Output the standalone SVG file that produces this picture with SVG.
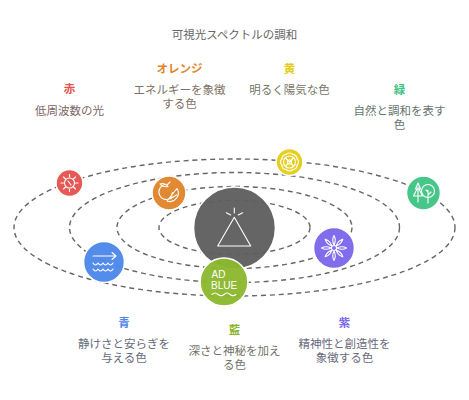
<svg xmlns="http://www.w3.org/2000/svg" width="469" height="400" viewBox="0 0 469 400">
<style>
text{font-family:"Liberation Sans","Noto Sans CJK JP",sans-serif;text-anchor:middle}
.t{font-size:11.5px;fill:#666}
.h{font-size:11.5px;font-weight:700}
.d{font-size:11.5px}
.o{fill:none;stroke:#666;stroke-width:1.4;stroke-dasharray:5 3.8}
.c{stroke:#fff;stroke-width:1.6;fill-opacity:.96}
.i{fill:none;stroke:#fff;stroke-width:1.1;stroke-linecap:round;stroke-linejoin:round}
</style>
<defs>
<path id="petal" d="M0 -3Q2.500 -8 0 -12.500Q-2.500 -8 0 -3Z"/>
<path id="scallop" d="M-3.300 -7.500Q0 -10.500 3.300 -7.500"/>
</defs>
<rect width="469" height="400" fill="#fff"/>
<g id="connectors">
<ellipse class="o" cx="234.500" cy="227.500" rx="220.500" ry="68.500"/>
<ellipse class="o" cx="234.500" cy="227.500" rx="165" ry="55"/>
<ellipse class="o" cx="234.500" cy="227.500" rx="117.500" ry="41"/>
<ellipse class="o" cx="234.500" cy="227.500" rx="75.500" ry="27"/>
</g>
<text class="t" x="234.500" y="39">可視光スペクトルの調和</text>
<g id="center"><circle class="c" cx="234.500" cy="228" r="41" fill="#5f5f5f"/>
<path class="i" d="M234.300 217.300L250.700 246H217.700ZM234.300 213V208M230.700 215L226.300 212.700M238.300 215L242.700 212.700"/></g>
<g id="node-red"><circle class="c" cx="69.500" cy="183" r="13.500" fill="#e5534f"/>
<circle class="i" cx="69.500" cy="183" r="5"/><path class="i" d="M69.500 174.500V177M69.500 189V191.500M61 183H63.500M75.500 183H78M63.500 177L65.500 179M73.500 187L75.500 189M63.500 189L65.500 187M73.500 179L75.500 177M68 181L71 185"/></g>
<g id="node-orange"><circle class="c" cx="169" cy="193" r="17" fill="#e0852b"/>
<path class="i" d="M166 184.500A7.500 7.500 0 1 0 172 197M160 184C163 183 166 184 168 186.500C165 187 162 186.500 160 184ZM167 185L170 182"/><path class="i" d="M177 188.500A8.500 8.500 0 0 1 167 201ZM172.500 192.500L170 199M176.500 195L170 199"/></g>
<g id="node-yellow"><circle class="c" cx="289.500" cy="162" r="13.500" fill="#e6cc1a"/>
<circle class="i" cx="289.500" cy="162" r="6"/><circle class="i" cx="289.500" cy="162" r="2"/><path class="i" d="M286 158.500L293 165.500M293 158.500L286 165.500"/>
<g class="i" transform="translate(289.500 162)"><use href="#scallop"/><use href="#scallop" transform="rotate(45)"/><use href="#scallop" transform="rotate(90)"/><use href="#scallop" transform="rotate(135)"/><use href="#scallop" transform="rotate(180)"/><use href="#scallop" transform="rotate(225)"/><use href="#scallop" transform="rotate(270)"/><use href="#scallop" transform="rotate(315)"/></g></g>
<g id="node-green"><circle class="c" cx="423.500" cy="193" r="17" fill="#40c485"/>
<path class="i" d="M418 183L415.500 189H417L413.500 196H422.500L419 189H420.500ZM418 187V202"/><circle class="i" cx="428" cy="191" r="6.500"/><path class="i" d="M428 190V203M428 195L431 192M428 192L426 190"/></g>
<g id="node-purple"><circle class="c" cx="334" cy="248" r="20.500" fill="#7c66ea"/>
<circle class="i" cx="334" cy="248" r="2.500"/>
<g class="i" transform="translate(334 248)"><use href="#petal"/><use href="#petal" transform="rotate(45)"/><use href="#petal" transform="rotate(90)"/><use href="#petal" transform="rotate(135)"/><use href="#petal" transform="rotate(180)"/><use href="#petal" transform="rotate(225)"/><use href="#petal" transform="rotate(270)"/><use href="#petal" transform="rotate(315)"/></g></g>
<g id="node-blue"><circle class="c" cx="104" cy="262" r="20.500" fill="#4d87ea"/>
<path class="i" d="M93 256H115M112 252.500L116 256L112 259.500M93 263Q95.500 267 98 263Q100.500 267 103 263Q105.500 267 108 263Q110.500 267 113 263M93 269Q95.500 273 98 269Q100.500 273 103 269Q105.500 273 108 269Q110.500 273 113 269"/></g>
<g id="node-adblue"><circle class="c" cx="224" cy="282" r="24" fill="#8db72e"/>
<text x="211.500" y="277.500" font-size="10" fill="#fff" style="text-anchor:start">AD</text><text x="211" y="288.800" font-size="10" fill="#fff" style="text-anchor:start">BLUE</text>
<path class="i" d="M212 294.500Q215 291.500 218 294.500Q221 297 224 294.500Q227 291.500 230 294.500Q233 297 236 294.500"/></g>
<g id="label-red"><text class="h" x="69.500" y="93" fill="#e5534f">赤</text><text class="d" x="69.500" y="115" fill="#7d6565">低周波数の光</text></g>
<g id="label-orange"><text class="h" x="179.500" y="73" fill="#e0852b">オレンジ</text><text class="d" x="179.500" y="94" fill="#7d7066">エネルギーを象徴</text><text class="d" x="179.500" y="108" fill="#7d7066">する色</text></g>
<g id="label-yellow"><text class="h" x="289.500" y="73" fill="#e6cc1a">黄</text><text class="d" x="289.500" y="94" fill="#77766a">明るく陽気な色</text></g>
<g id="label-green"><text class="h" x="399.500" y="94" fill="#40c485">緑</text><text class="d" x="399.500" y="115" fill="#66766f">自然と調和を表す</text><text class="d" x="399.500" y="129" fill="#66766f">色</text></g>
<g id="label-blue"><text class="h" x="124" y="327" fill="#4d87ea">青</text><text class="d" x="124" y="348" fill="#666c7c">静けさと安らぎを</text><text class="d" x="124" y="362" fill="#666c7c">与える色</text></g>
<g id="label-indigo"><text class="h" x="234.500" y="334" fill="#8db72e">藍</text><text class="d" x="234.500" y="355" fill="#70746a">深さと神秘を加え</text><text class="d" x="234.500" y="369" fill="#70746a">る色</text></g>
<g id="label-purple"><text class="h" x="344.500" y="327" fill="#7c66ea">紫</text><text class="d" x="344.500" y="348" fill="#6c6a7d">精神性と創造性を</text><text class="d" x="344.500" y="362" fill="#6c6a7d">象徴する色</text></g>
</svg>
